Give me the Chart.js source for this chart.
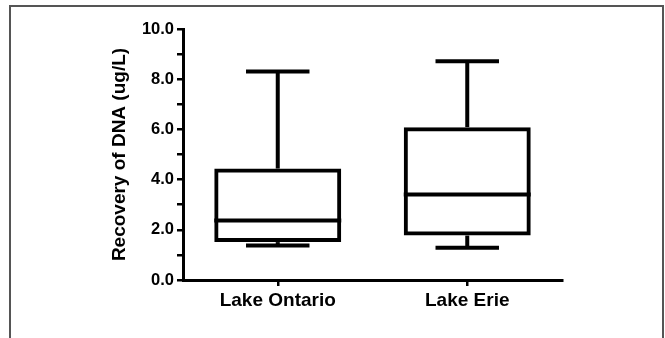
<!DOCTYPE html>
<html>
<head>
<meta charset="utf-8">
<script src="https://cdn.jsdelivr.net/npm/chart.js@4/dist/chart.umd.min.js"></script>
<style>
  html, body { margin: 0; padding: 0; background: #fff; }
  #wrap { position: relative; width: 665px; height: 338px; overflow: hidden; }
  #frame {
    position: absolute; left: 9px; top: 5px; width: 655px; height: 360px;
    border: 2px solid #555; border-bottom: none; box-sizing: border-box;
  }
  canvas { position: absolute; left: 0; top: 0; }
</style>
</head>
<body>
<div id="wrap">
  <div id="frame"></div>
  <canvas id="chartBox" width="665" height="338"></canvas>
</div>
<script>
const lakes = ['Lake Ontario', 'Lake Erie'];
const whiskerMin = [1.37, 1.28];
const q1 = [1.51, 1.77];
const median = [2.37, 3.41];
const q3 = [4.44, 6.09];
const whiskerMax = [8.31, 8.72];

const FONT = '"Liberation Sans", Arial, sans-serif';

// median, whiskers and caps drawn through the scales
const boxExtras = {
  id: 'boxExtras',
  afterDatasetsDraw(chart) {
    const { ctx, scales: { x, y } } = chart;
    const meta = chart.getDatasetMeta(0);
    ctx.save();
    ctx.strokeStyle = '#000';
    ctx.lineWidth = 4;
    ctx.lineCap = 'butt';
    lakes.forEach((_, i) => {
      const bar = meta.data[i];
      const cx = x.getPixelForValue(i);
      const half = bar.width / 2;
      const capHalf = half / 2;
      const line = (x1, y1, x2, y2) => {
        ctx.beginPath();
        ctx.moveTo(x1, y1);
        ctx.lineTo(x2, y2);
        ctx.stroke();
      };
      line(cx - half, y.getPixelForValue(median[i]), cx + half, y.getPixelForValue(median[i]));
      line(cx, y.getPixelForValue(q3[i]), cx, y.getPixelForValue(whiskerMax[i]));
      line(cx, y.getPixelForValue(q1[i]), cx, y.getPixelForValue(whiskerMin[i]));
      line(cx - capHalf, y.getPixelForValue(whiskerMax[i]), cx + capHalf, y.getPixelForValue(whiskerMax[i]));
      line(cx - capHalf, y.getPixelForValue(whiskerMin[i]), cx + capHalf, y.getPixelForValue(whiskerMin[i]));
    });
    ctx.restore();
  },
};

new Chart(document.getElementById('chartBox').getContext('2d'), {
  type: 'bar',
  data: {
    labels: lakes,
    datasets: [{
      label: 'box',
      data: lakes.map((_, i) => [q1[i], q3[i]]),
      backgroundColor: 'rgba(255,255,255,0)',
      borderColor: '#000',
      borderWidth: 4,
      borderSkipped: false,
      categoryPercentage: 1,
      barPercentage: 0.67,
    }],
  },
  options: {
    responsive: false,
    animation: false,
    devicePixelRatio: 1,
    layout: { padding: { left: 106, right: 103, top: 29, bottom: 18 } },
    plugins: { legend: { display: false }, tooltip: { enabled: false } },
    scales: {
      x: {
        offset: true,
        afterFit: (scale) => { scale.height = 40; },
        border: { display: true, color: '#000', width: 3 },
        grid: { offset: false, drawOnChartArea: false, drawTicks: true, tickLength: 6, color: '#000', lineWidth: 2.5 },
        ticks: { color: '#000', padding: 3, font: { family: FONT, size: 19, weight: 'bold' } },
      },
      y: {
        min: 0,
        max: 10,
        afterFit: (scale) => { scale.width = 77; },
        border: { display: true, color: '#000', width: 3 },
        grid: { drawOnChartArea: false, drawTicks: true, tickLength: 6, color: '#000', lineWidth: 2.5 },
        ticks: {
          stepSize: 1,
          color: '#000',
          padding: 3,
          font: { family: FONT, size: 16.5, weight: 'bold' },
          callback: (value) => (value % 2 === 0 ? Number(value).toFixed(1) : ''),
        },
        title: {
          display: true,
          text: 'Recovery of DNA (ug/L)',
          color: '#000',
          padding: { top: 2, bottom: 4 },
          font: { family: FONT, size: 19, weight: 'bold' },
        },
      },
    },
  },
  plugins: [boxExtras],
});
</script>
</body>
</html>
